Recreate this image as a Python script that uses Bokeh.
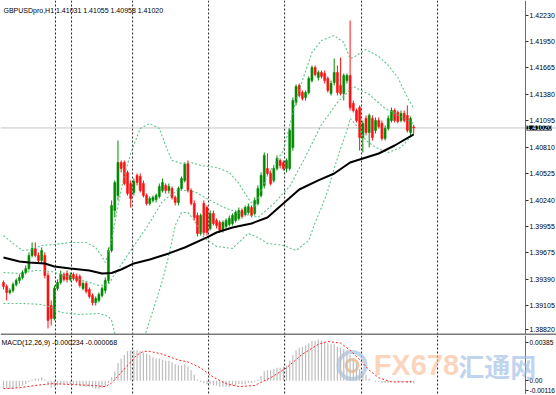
from bokeh.plotting import figure
from bokeh.layouts import column
from bokeh.models import Range1d, Span, Label, FixedTicker, PrintfTickFormatter, ColumnDataSource
from bokeh.embed import file_html
from bokeh.resources import INLINE

# ---------------- data (GBPUSD H1) ----------------
opens = [1.39358, 1.39315, 1.39250, 1.39272, 1.39336, 1.39379, 1.39411, 1.39465, 1.39508, 1.39648,
         1.39723, 1.39648, 1.39594, 1.39648, 1.39433, 1.39110, 1.38970, 1.39293, 1.39358, 1.39444,
         1.39454, 1.39390, 1.39444, 1.39422, 1.39422, 1.39293, 1.39347, 1.39282, 1.39218, 1.39142,
         1.39164, 1.39218, 1.39272, 1.39379, 1.39702, 1.40132, 1.40293, 1.40648, 1.40648, 1.40541,
         1.40422, 1.40326, 1.40509, 1.40498, 1.40422, 1.40293, 1.40207, 1.40240, 1.40250, 1.40283,
         1.40347, 1.40401, 1.40347, 1.40369, 1.40272, 1.40218, 1.40369, 1.40455, 1.40638, 1.40347,
         1.40207, 1.40078, 1.39885, 1.40207, 1.40164, 1.39938, 1.40100, 1.40025, 1.40003, 1.39917,
         1.39960, 1.39982, 1.39992, 1.40025, 1.40046, 1.40132, 1.40089, 1.40111, 1.40164, 1.40100,
         1.40207, 1.40293, 1.40401, 1.40584, 1.40530, 1.40455, 1.40584, 1.40670, 1.40648, 1.40584,
         1.40584, 1.40810, 1.41294, 1.41477, 1.41401, 1.41348, 1.41401, 1.41530, 1.41670, 1.41563,
         1.41617, 1.41606, 1.41552, 1.41391, 1.41509, 1.41617, 1.41477, 1.41391, 1.41530, 1.41584,
         1.41283, 1.41208, 1.41240, 1.40917, 1.41122, 1.40971, 1.41122, 1.40993, 1.41100, 1.41068,
         1.40907, 1.41014, 1.41100, 1.41208, 1.41186, 1.41100, 1.41175, 1.41154, 1.40971, 1.41031]
highs = [1.39379, 1.39336, 1.39293, 1.39358, 1.39401, 1.39444, 1.39487, 1.39540, 1.39680, 1.39788,
         1.39788, 1.39680, 1.39734, 1.39680, 1.39465, 1.39164, 1.39325, 1.39390, 1.39487, 1.39465,
         1.39487, 1.39465, 1.39465, 1.39454, 1.39444, 1.39368, 1.39368, 1.39304, 1.39239, 1.39207,
         1.39250, 1.39315, 1.39411, 1.39734, 1.40240, 1.40455, 1.40885, 1.40670, 1.40670, 1.40562,
         1.40455, 1.40476, 1.40530, 1.40530, 1.40455, 1.40315, 1.40283, 1.40293, 1.40315, 1.40422,
         1.40476, 1.40422, 1.40422, 1.40390, 1.40293, 1.40390, 1.40498, 1.40648, 1.40670, 1.40369,
         1.40240, 1.40111, 1.40100, 1.40240, 1.40186, 1.40132, 1.40132, 1.40046, 1.40025, 1.40025,
         1.40046, 1.40078, 1.40100, 1.40132, 1.40164, 1.40154, 1.40186, 1.40207, 1.40186, 1.40272,
         1.40401, 1.40541, 1.40756, 1.40745, 1.40562, 1.40616, 1.40724, 1.40691, 1.40670, 1.40691,
         1.41014, 1.41348, 1.41487, 1.41498, 1.41423, 1.41423, 1.41574, 1.41692, 1.41692, 1.41638,
         1.41638, 1.41638, 1.41574, 1.41530, 1.41767, 1.41692, 1.41778, 1.41606, 1.41606, 1.42176,
         1.41315, 1.41229, 1.41262, 1.41100, 1.41154, 1.41175, 1.41154, 1.41132, 1.41132, 1.41100,
         1.41046, 1.41154, 1.41240, 1.41229, 1.41208, 1.41208, 1.41208, 1.41262, 1.41143, 1.41055]
lows = [1.39282, 1.39164, 1.39229, 1.39250, 1.39315, 1.39347, 1.39390, 1.39444, 1.39487, 1.39627,
        1.39627, 1.39573, 1.39562, 1.39401, 1.38863, 1.38895, 1.38949, 1.39272, 1.39336, 1.39368,
        1.39358, 1.39368, 1.39379, 1.39358, 1.39304, 1.39272, 1.39239, 1.39185, 1.39110, 1.39110,
        1.39142, 1.39196, 1.39239, 1.39347, 1.39680, 1.40057, 1.40240, 1.40541, 1.40401, 1.40293,
        1.40164, 1.40293, 1.40401, 1.40326, 1.40272, 1.40186, 1.40186, 1.40218, 1.40218, 1.40261,
        1.40326, 1.40315, 1.40315, 1.40250, 1.40186, 1.40186, 1.40347, 1.40433, 1.40326, 1.40186,
        1.40025, 1.39852, 1.39863, 1.39863, 1.39863, 1.39917, 1.39971, 1.39938, 1.39895, 1.39895,
        1.39938, 1.39960, 1.39971, 1.40003, 1.40025, 1.40046, 1.40068, 1.40089, 1.40057, 1.40078,
        1.40186, 1.40272, 1.40369, 1.40509, 1.40401, 1.40433, 1.40562, 1.40584, 1.40562, 1.40541,
        1.40562, 1.40777, 1.41262, 1.41348, 1.41315, 1.41315, 1.41380, 1.41509, 1.41574, 1.41530,
        1.41552, 1.41498, 1.41401, 1.41369, 1.41477, 1.41369, 1.41369, 1.41315, 1.41498, 1.41208,
        1.41186, 1.41079, 1.40777, 1.40756, 1.40939, 1.40810, 1.40885, 1.40960, 1.41014, 1.40885,
        1.40885, 1.40993, 1.41079, 1.41079, 1.41068, 1.41079, 1.41079, 1.40971, 1.40939, 1.40958]
closes = [1.39315, 1.39250, 1.39272, 1.39336, 1.39379, 1.39411, 1.39465, 1.39508, 1.39648, 1.39723,
          1.39648, 1.39594, 1.39702, 1.39433, 1.38949, 1.38970, 1.39293, 1.39358, 1.39444, 1.39390,
          1.39390, 1.39433, 1.39401, 1.39379, 1.39325, 1.39347, 1.39261, 1.39207, 1.39142, 1.39185,
          1.39229, 1.39293, 1.39379, 1.39702, 1.40186, 1.40433, 1.40648, 1.40584, 1.40422, 1.40315,
          1.40261, 1.40444, 1.40433, 1.40347, 1.40293, 1.40207, 1.40261, 1.40272, 1.40293, 1.40390,
          1.40433, 1.40347, 1.40390, 1.40272, 1.40218, 1.40369, 1.40476, 1.40627, 1.40347, 1.40207,
          1.40057, 1.39885, 1.40078, 1.39895, 1.39895, 1.40100, 1.39992, 1.39971, 1.39917, 1.40003,
          1.40025, 1.40046, 1.40078, 1.40111, 1.40132, 1.40068, 1.40164, 1.40175, 1.40078, 1.40240,
          1.40369, 1.40509, 1.40724, 1.40530, 1.40422, 1.40584, 1.40691, 1.40616, 1.40584, 1.40670,
          1.40993, 1.41315, 1.41466, 1.41369, 1.41337, 1.41401, 1.41552, 1.41670, 1.41595, 1.41617,
          1.41574, 1.41530, 1.41423, 1.41498, 1.41617, 1.41401, 1.41391, 1.41584, 1.41584, 1.41240,
          1.41208, 1.41100, 1.40917, 1.41068, 1.40971, 1.41154, 1.40917, 1.41100, 1.41036, 1.40907,
          1.41014, 1.41122, 1.41208, 1.41100, 1.41089, 1.41175, 1.41100, 1.40993, 1.41122, 1.41020]

# moving average (black line)
ma_bars = [0, 5, 8, 13, 16, 21, 27, 31, 34, 37, 41, 46, 52, 57, 64, 67, 72, 78, 83, 88, 93, 99,
           104, 109, 114, 118, 123, 129]
ma_vals = [1.39627, 1.39583, 1.39573, 1.39562, 1.39530, 1.39508, 1.39487, 1.39454, 1.39460, 1.39497,
           1.39562, 1.39605, 1.39670, 1.39734, 1.39842, 1.39895, 1.39949, 1.39992, 1.40057, 1.40207,
           1.40358, 1.40455, 1.40530, 1.40648, 1.40702, 1.40745, 1.40831, 1.40950]

# Bollinger bands (dotted green)
bb_up_bars = [0, 3, 6, 9, 12, 16, 21, 26, 29, 31, 32, 33, 34, 36, 38, 40, 43, 46, 49, 51, 53, 56,
              59, 62, 67, 71, 74, 77, 79, 81, 83, 86, 88, 90, 92, 94, 97, 100, 104, 107, 109, 110,
              114, 118, 121, 124, 127, 129]
bb_up = [1.39863, 1.39777, 1.39702, 1.39713, 1.39756, 1.39766, 1.39788, 1.39788, 1.39734, 1.39637,
         1.39573, 1.39680, 1.39809, 1.40186, 1.40509, 1.40745, 1.41014, 1.41068, 1.41014, 1.40831,
         1.40670, 1.40638, 1.40648, 1.40616, 1.40595, 1.40541, 1.40422, 1.40261, 1.40164, 1.40347,
         1.40509, 1.40670, 1.40777, 1.41046, 1.41315, 1.41530, 1.41832, 1.41961, 1.42015, 1.41939,
         1.41767, 1.41778, 1.41864, 1.41789, 1.41692, 1.41563, 1.41348, 1.41229]
bb_mid_bars = [0, 5, 10, 15, 20, 25, 30, 33, 35, 40, 45, 50, 55, 60, 65, 70, 75, 80, 85, 90, 95,
               100, 105, 110, 115, 120, 125, 129]
bb_mid = [1.39465, 1.39454, 1.39487, 1.39476, 1.39422, 1.39379, 1.39325, 1.39336, 1.39444, 1.39702,
          1.39949, 1.40229, 1.40358, 1.40336, 1.40240, 1.40154, 1.40100, 1.40057, 1.40207, 1.40390,
          1.40713, 1.41057, 1.41294, 1.41466, 1.41380, 1.41229, 1.41143, 1.41068]
bb_lo_bars = [0, 6, 12, 15, 18, 24, 30, 33, 34, 35, 37, 39, 42, 44, 45, 46, 48, 50, 52, 54, 56, 58,
              60, 63, 67, 72, 77, 80, 83, 88, 92, 96, 98, 100, 102, 104, 106, 108, 109, 111, 114,
              117, 121, 125, 129]
bb_lo = [1.39132, 1.39132, 1.39121, 1.39089, 1.39035, 1.39013, 1.39024, 1.38992, 1.38949, 1.38809,
         1.38712, 1.38648, 1.38669, 1.38734, 1.38841, 1.38949, 1.39164, 1.39379, 1.39648, 1.39971,
         1.40111, 1.40111, 1.40025, 1.39842, 1.39745, 1.39723, 1.39885, 1.39842, 1.39777, 1.39756,
         1.39702, 1.39809, 1.40003, 1.40164, 1.40347, 1.40584, 1.40799, 1.40993, 1.41122, 1.41046,
         1.40885, 1.40810, 1.40756, 1.40810, 1.40960]

# MACD(12,26,9): main line as histogram, signal as dotted red line
macd_hist = [-0.0006, -0.00065, -0.0007, -0.0007, -0.0006, -0.0005, -0.0004, -0.0003,
             -0.0001, 0.0001, 0.0002, 0.0002, 0.0003, 0.0001,
             -0.0003, -0.0006, -0.0005, -0.0004, -0.0003, -0.0003, -0.0003,
             -0.0003, -0.0003, -0.0003, -0.0004, -0.0004, -0.0005, -0.0005, -0.0006,
             -0.0007, -0.0007, -0.0006, -0.0005, -0.0002,
             0.0003, 0.0008, 0.0015, 0.0019, 0.0022, 0.0025, 0.0026, 0.0026, 0.0026, 0.0025, 0.0024,
             0.0023, 0.0022, 0.0020, 0.0019, 0.0019, 0.0018, 0.0017, 0.0017, 0.0016, 0.0014, 0.0013,
             0.0013, 0.0014, 0.0012,
             0.0009, 0.0005, 0.0001, -0.0001, -0.0002, -0.0003,
             -0.0003, -0.0004, -0.0004, -0.0005, -0.0005, -0.0005, -0.0005, -0.0004, -0.0004,
             -0.0003, -0.0003,
             -0.0003, -0.0002, -0.0002, -0.0001, 0.0001,
             0.0004, 0.0008, 0.0009, 0.0009, 0.0010, 0.0011, 0.0011, 0.0012, 0.0013,
             0.0017, 0.0022, 0.0026, 0.0028, 0.0029, 0.0030, 0.0032, 0.0034, 0.0034, 0.0035,
             0.0034, 0.0033, 0.0032, 0.0031, 0.0031, 0.0029, 0.0028, 0.0027, 0.0026,
             0.0022, 0.0019, 0.0015, 0.0010, 0.0007, 0.0005, 0.0002, 0.0000,
             -0.0001, -0.0001, -0.0002, -0.0002, -0.0002, -0.0001, -0.0001, -0.0001, -0.0001,
             -0.0001, -0.0002, -0.0002, -0.000234]
sig_bars = [0, 5, 10, 15, 18, 22, 28, 32, 34, 36, 38, 40, 42, 44, 46, 50, 55, 58, 62, 66, 70, 74,
            79, 84, 89, 94, 99, 102, 106, 109, 112, 115, 118, 122, 126, 129]
sig_vals = [-0.00067, -0.0006, -0.0004, -0.00025, -0.00028, -0.00033, -0.0004, -0.0005, -0.0002,
            0.0004, 0.0010, 0.0016, 0.0022, 0.0025, 0.0025, 0.00226, 0.00176, 0.0016, 0.0011, 0.0003,
            -0.00025, -0.0005, -0.0004, 0.00025, 0.0011, 0.00226, 0.0031, 0.00335, 0.0032, 0.0026,
            0.0018, 0.0009, 0.00025, -0.0001, -0.0001, -0.000068]

price_ticks = [1.38820, 1.39105, 1.39390, 1.39675, 1.39955, 1.40240, 1.40525, 1.40810,
               1.41095, 1.41380, 1.41665, 1.41950, 1.42230]
macd_ticks = ["0.00385", "0.00", "-0.00116"]
last_price = 1.41020
title_text = "GBPUSDpro,H1  1.41031 1.41055 1.40958 1.41020"
macd_text = "MACD(12,26,9) -0.000234 -0.000068"

# ---------------- style / layout constants ----------------
grid_bars = [16.35, 21.4, 40.6, 64.5, 88.4, 112.6, 136.5]
axis_bar = 164.15          # where the price scale line sits (x ~ 525 px)
FONT = "Liberation Sans"
BULL = "#008a00"
BEAR = "#ff1010"
BAND = "#4cbf7c"
W = 556

n = len(closes)
bars = list(range(n))
xr = Range1d(-0.94, 173.9)


def style_axis(ax, size):
    ax.fixed_location = axis_bar
    ax.axis_line_color = "#6e6e6e"
    ax.major_tick_out = 3
    ax.major_tick_in = 0
    ax.minor_tick_out = 0
    ax.minor_tick_in = 0
    ax.major_tick_line_color = "#333333"
    ax.major_label_text_font = FONT
    ax.major_label_text_font_size = size
    ax.major_label_text_color = "black"
    ax.major_label_standoff = 1


# ---------------- main price panel ----------------
p = figure(width=W, height=335, x_range=xr, y_range=Range1d(1.38787, 1.42391),
           output_backend="svg", toolbar_location=None, y_axis_location="right",
           x_axis_location=None, min_border=0, min_border_left=0, min_border_right=0,
           min_border_top=0, min_border_bottom=0,
           background_fill_color="white", border_fill_color="white")
p.outline_line_color = None
p.grid.visible = False
style_axis(p.yaxis[0], "7px")
edge_tick = 1.38853  # label for the bottom level, lifted clear of the panel edge
p.yaxis[0].ticker = FixedTicker(ticks=[edge_tick] + price_ticks[1:])
p.yaxis[0].formatter = PrintfTickFormatter(format="%.5f")
p.yaxis[0].major_label_overrides = {edge_tick: "%.5f" % price_ticks[0]}

for gb in grid_bars:
    p.add_layout(Span(location=gb, dimension="height", line_color="#222222",
                      line_dash="2 2", line_width=1, level="underlay"))
p.add_layout(Span(location=last_price, dimension="width", line_color="#c4c4c4",
                  line_width=1, level="underlay"))

for color, idx in ((BULL, [i for i in bars if closes[i] >= opens[i]]),
                   (BEAR, [i for i in bars if closes[i] < opens[i]])):
    src = ColumnDataSource(dict(
        x=idx,
        top=[max(opens[i], closes[i]) for i in idx],
        bottom=[min(opens[i], closes[i]) for i in idx],
        high=[highs[i] for i in idx],
        low=[lows[i] for i in idx]))
    p.segment(x0="x", y0="high", x1="x", y1="low", source=src, line_color=color, line_width=1)
    p.vbar(x="x", width=0.62, top="top", bottom="bottom", source=src,
           fill_color=color, line_color=color, line_width=0.6)

for bx, by in ((bb_up_bars, bb_up), (bb_mid_bars, bb_mid), (bb_lo_bars, bb_lo)):
    p.line(bx, by, line_color=BAND, line_dash="2 2", line_width=1.1, line_alpha=0.9)
p.line(ma_bars, ma_vals, line_color="black", line_width=2)

# panel separator (bottom 2 px of the price panel)
p.add_layout(Span(location=1.38798, dimension="width", line_color="#7a7a7a", line_width=2))

p.add_layout(Label(x=xr.start, y=1.42391, x_offset=3, y_offset=-6, text=title_text,
                   text_font=FONT, text_font_size="7px", text_color="black",
                   text_baseline="top", text_align="left"))
p.add_layout(Label(x=axis_bar, y=last_price, x_offset=1, text="%.5f" % last_price,
                   text_font=FONT, text_font_size="7px", text_color="white",
                   text_baseline="middle", text_align="left",
                   background_fill_color="black", background_fill_alpha=1.0))

# ---------------- MACD panel ----------------
q = figure(width=W, height=59, x_range=xr, y_range=Range1d(-0.00117, 0.00385),
           output_backend="svg", toolbar_location=None, y_axis_location="right",
           x_axis_location=None, min_border=0, min_border_left=0, min_border_right=0,
           min_border_top=0, min_border_bottom=0,
           background_fill_color="white", border_fill_color="white")
q.outline_line_color = None
q.grid.visible = False
style_axis(q.yaxis[0], "6.6px")
macd_tick_pos = [0.00325, 0.0, -0.00079]   # top / zero / bottom label positions
q.yaxis[0].ticker = FixedTicker(ticks=macd_tick_pos)
q.yaxis[0].major_label_overrides = dict(zip(macd_tick_pos, macd_ticks))

for gb in grid_bars:
    q.add_layout(Span(location=gb, dimension="height", line_color="#222222",
                      line_dash="2 2", line_width=1, level="underlay"))

# watermark
logo_pos = (109.6, 0.0013)
q.scatter(x=[logo_pos[0]], y=[logo_pos[1]], size=27, marker="circle", fill_color=None,
          line_color="#a9c5e6", line_width=4, line_alpha=0.75)
q.scatter(x=[logo_pos[0]], y=[logo_pos[1]], size=12, marker="circle", fill_color=None,
          line_color="#f4b27e", line_width=3, line_alpha=0.75)
q.add_layout(Label(x=116.4, y=0.0013, text="FX678", text_font=FONT, text_font_size="29px",
                   text_font_style="bold", text_color="#f7b98f", text_alpha=0.6,
                   text_baseline="middle", text_align="left"))
q.add_layout(Label(x=143.0, y=0.0013, text="汇通网", text_font="Noto Sans CJK SC",
                   text_font_size="26px", text_font_style="bold", text_color="#9dbbe3",
                   text_alpha=0.65, text_baseline="middle", text_align="left"))

q.segment(x0=bars, y0=[0.0] * n, x1=bars, y1=macd_hist, line_color="#bdbdbd", line_width=1.2)
q.line(sig_bars, sig_vals, line_color="#ff2020", line_dash="2 2", line_width=1)

q.add_layout(Label(x=xr.start, y=0.00385, x_offset=1, y_offset=-3, text=macd_text,
                   text_font=FONT, text_font_size="7px", text_color="black",
                   text_baseline="top", text_align="left"))

layout = column(p, q, spacing=0)
html = file_html(layout, INLINE, title="GBPUSD H1")
open("out.html", "w").write(html)
